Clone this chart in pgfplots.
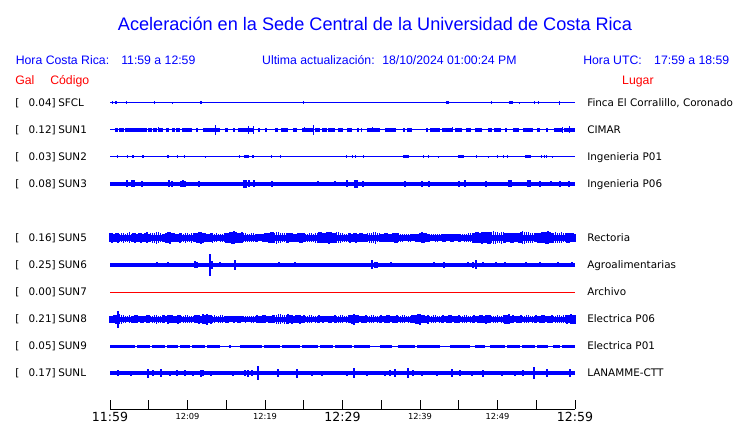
\documentclass[border=0pt]{standalone}
\usepackage{pgfplots}
\pgfplotsset{compat=1.18}
\usepackage{fontspec}
\setmainfont{Liberation Sans}
\newfontfamily\dejavu{DejaVu Sans}
\pgfplotsset{
 blk/.style={blue, draw=none, mark=none, error bars/.cd, x dir=both, x explicit, error mark=none, error bar style={draw=blue, color=blue, solid, line width=#1}},
 spk/.style={blue, draw=none, mark=none, error bars/.cd, y dir=both, y explicit, error mark=none, error bar style={draw=blue, color=blue, solid, line width=#1}},
}
\newcommand{\lab}{\dejavu\fontsize{7.8}{9}\selectfont}
\newcommand{\hdr}{\fontsize{9.2}{11}\selectfont}
\begin{document}
\begin{tikzpicture}
\begin{axis}[scale only axis, width=348.75pt, height=317.25pt,
  xmin=0, xmax=60, ymin=0, ymax=423, y dir=reverse,
  hide axis, clip=false]
\path (axis cs:-14.194,0) rectangle (axis cs:81.290,423);
% ---------- titles ----------
\node[anchor=base, inner sep=0, text=blue, font=\fontsize{13.6}{16}\selectfont] at (axis cs:34.19,30.5) {Aceleración en la Sede Central de la Universidad de Costa Rica};
\node[anchor=base west, inner sep=0, text=blue, font=\hdr] at (axis cs:-12.19,64.5) {Hora Costa Rica:};
\node[anchor=base west, inner sep=0, text=blue, font=\hdr] at (axis cs:1.42,64.5) {11:59 a 12:59};
\node[anchor=base west, inner sep=0, text=blue, font=\hdr] at (axis cs:19.61,64.5) {Ultima actualización:};
\node[anchor=base west, inner sep=0, text=blue, font=\hdr] at (axis cs:35.10,64.5) {18/10/2024 01:00:24 PM};
\node[anchor=base west, inner sep=0, text=blue, font=\hdr] at (axis cs:61.03,64.5) {Hora UTC:};
\node[anchor=base west, inner sep=0, text=blue, font=\hdr] at (axis cs:70.19,64.5) {17:59 a 18:59};
\node[anchor=base west, inner sep=0, text=red, font=\hdr] at (axis cs:-12.26,84.5) {Gal};
\node[anchor=base west, inner sep=0, text=red, font=\hdr] at (axis cs:-7.74,84.5) {Código};
\node[anchor=base west, inner sep=0, text=red, font=\hdr] at (axis cs:66.06,84.5) {Lugar};
% ---------- row labels ----------
\def\rowlab#1#2#3#4{%
\node[anchor=base west, inner sep=0, font=\lab] at (axis cs:-12.26,#1) {[};
\node[anchor=base east, inner sep=0, font=\lab] at (axis cs:-6.97,#1) {#2]};
\node[anchor=base west, inner sep=0, font=\lab] at (axis cs:-6.71,#1) {#3};
\node[anchor=base west, inner sep=0, font=\lab] at (axis cs:61.55,#1) {#4};}
\rowlab{106.9}{0.04}{SFCL}{Finca El Corralillo, Coronado}
\rowlab{133.9}{0.12}{SUN1}{CIMAR}
\rowlab{160.9}{0.03}{SUN2}{Ingenieria P01}
\rowlab{187.9}{0.08}{SUN3}{Ingenieria P06}
\rowlab{241.9}{0.16}{SUN5}{Rectoria}
\rowlab{268.9}{0.25}{SUN6}{Agroalimentarias}
\rowlab{295.9}{0.00}{SUN7}{Archivo}
\rowlab{322.9}{0.21}{SUN8}{Electrica P06}
\rowlab{349.9}{0.05}{SUN9}{Electrica P01}
\rowlab{376.9}{0.17}{SUNL}{LANAMME-CTT}
% ---------- time axis ----------
\draw[line width=0.75pt] (axis cs:0,409) -- (axis cs:60,409)
 (axis cs:0,409) -- (axis cs:0,400) (axis cs:5,409) -- (axis cs:5,400)
 (axis cs:10,409) -- (axis cs:10,400) (axis cs:15,409) -- (axis cs:15,400)
 (axis cs:20,409) -- (axis cs:20,400) (axis cs:25,409) -- (axis cs:25,400)
 (axis cs:30,409) -- (axis cs:30,400) (axis cs:35,409) -- (axis cs:35,400)
 (axis cs:40,409) -- (axis cs:40,400) (axis cs:45,409) -- (axis cs:45,400)
 (axis cs:50,409) -- (axis cs:50,400) (axis cs:55,409) -- (axis cs:55,400)
 (axis cs:60,409) -- (axis cs:60,400);
\node[anchor=base, inner sep=0, font=\dejavu\fontsize{9.4}{11}\selectfont] at (axis cs:0,421.5) {11:59};
\node[anchor=base, inner sep=0, font=\dejavu\fontsize{9.4}{11}\selectfont] at (axis cs:30,421.5) {12:29};
\node[anchor=base, inner sep=0, font=\dejavu\fontsize{9.4}{11}\selectfont] at (axis cs:60,421.5) {12:59};
\node[anchor=base, inner sep=0, font=\dejavu\fontsize{6.2}{7}\selectfont] at (axis cs:10,419.3) {12:09};
\node[anchor=base, inner sep=0, font=\dejavu\fontsize{6.2}{7}\selectfont] at (axis cs:20,419.3) {12:19};
\node[anchor=base, inner sep=0, font=\dejavu\fontsize{6.2}{7}\selectfont] at (axis cs:40,419.3) {12:39};
\node[anchor=base, inner sep=0, font=\dejavu\fontsize{6.2}{7}\selectfont] at (axis cs:50,419.3) {12:49};
% ================= traces =================
% SFCL
\addplot[blue, line width=0.75pt] coordinates {(0,103) (60,103)};
\addplot[blk=2.25pt] table[x index=0, y expr=103, x error index=1, row sep=\\] {
0.77 0.13\\ 11.74 0.13\\ 43.55 0.19\\ 51.74 0.26\\};
\addplot[spk=0.75pt] table[x index=0, y expr=103, y error index=1, row sep=\\] {
0.26 1.5\\ 2.19 1.5\\ 5.68 1.5\\ 8.00 1\\ 25.03 1.5\\ 49.29 1.5\\ 52.90 1\\ 54.71 1.5\\ 55.23 1.5\\ 58.06 2\\};
% SUN1
\addplot[blue, line width=0.75pt] coordinates {(0,130) (60,130)};
\addplot[blk=2.6pt] table[x index=0, y expr=130, x error index=1, row sep=\\] {
0.84 0.19\\ 1.48 0.32\\ 3.35 1.42\\ 5.16 0.26\\ 5.81 0.26\\ 6.52 0.32\\ 7.42 0.19\\ 8.19 0.19\\
8.77 0.26\\ 9.94 0.65\\ 11.23 0.13\\ 13.10 1.10\\ 15.03 0.19\\ 16.00 0.13\\ 17.48 0.97\\ 19.23 0.13\\
20.13 0.13\\ 21.48 0.19\\ 22.52 0.45\\ 23.87 0.26\\ 25.48 0.71\\ 26.77 0.32\\ 27.68 0.32\\ 28.58 0.45\\
29.74 0.32\\ 30.90 0.32\\ 31.94 0.10\\ 32.45 0.10\\ 34.00 0.84\\ 36.19 0.71\\ 37.94 0.13\\ 38.65 0.32\\
40.90 0.13\\ 41.94 0.65\\ 43.55 0.71\\ 44.97 0.45\\ 46.26 0.32\\ 47.55 0.45\\ 49.03 0.26\\ 50.00 0.45\\
51.10 0.13\\ 52.39 0.39\\ 53.94 0.65\\ 55.29 0.19\\ 56.39 0.13\\ 57.87 0.58\\ 59.29 0.71\\};
\addplot[spk=0.75pt] table[x index=0, y expr=130, y error index=1, row sep=\\] {
6.32 2.5\\ 13.55 5.3\\ 17.81 4\\ 18.58 4\\ 25.16 2.5\\ 26.32 5\\ 33.81 2.5\\ 44.13 2.5\\ 58.45 3\\ 59.35 3.5\\};
% SUN2
\addplot[blue, line width=0.75pt] coordinates {(0,157) (60,157)};
\addplot[blk=2.25pt] table[x index=0, y expr=157, x error index=1, row sep=\\] {
2.97 0.13\\ 4.26 0.13\\ 7.48 0.13\\ 17.61 0.32\\ 18.45 0.13\\ 38.19 0.39\\ 45.29 0.39\\ 53.94 0.39\\};
\addplot[spk=0.75pt] table[x index=0, y expr=157, y error index=1, row sep=\\] {
1.03 1.5\\ 2.32 1.5\\ 8.77 1.5\\ 9.55 1.5\\ 12.26 1\\ 16.77 1.5\\ 20.90 1.5\\ 21.94 1.5\\ 30.58 1.5\\
31.23 1.5\\ 31.74 1.5\\ 32.65 1.5\\ 40.39 1.5\\ 41.16 1.5\\ 42.45 1\\ 47.35 1.5\\ 48.90 1\\ 50.06 1.5\\
50.71 1.5\\ 51.23 1.5\\ 55.74 1.5\\ 56.00 1.5\\ 56.26 1.5\\ 57.16 1\\};
% SUN3
\addplot[blue, line width=2.6pt] coordinates {(0,184) (60,184)};
\addplot[spk=0.9pt] table[x index=0, y expr=184, y error index=1, row sep=\\] {
2.19 3.5\\ 2.84 3.5\\ 3.10 3.5\\ 4.13 3\\ 7.61 3.5\\ 8.00 3\\ 9.16 3\\ 9.42 3.5\\ 9.68 3\\ 11.48 3\\
17.29 4\\ 17.55 4\\ 17.94 3.5\\ 18.58 3.5\\ 20.90 3\\ 26.84 2.5\\ 29.03 2.5\\ 30.58 3.5\\ 31.61 4\\
31.87 4\\ 32.65 3\\ 38.06 3\\ 40.26 3\\ 41.16 3\\ 45.03 3\\ 45.81 3.5\\ 48.52 3\\ 51.48 3.5\\ 51.74 3.5\\
53.94 3.5\\ 54.19 3.5\\ 55.48 3\\ 56.90 2.5\\ 58.06 3\\ 59.23 3\\};
% SUN5
\addplot[blue, line width=4.5pt] coordinates {(0,238) (60,238)};
\addplot[spk=1.2pt] table[x index=0, y expr=238, y error index=1, row sep=\\] {
0 4.5\\ 0.5 4\\ 1 5\\ 1.5 4.5\\ 2 4\\ 2.5 5.5\\ 3 4.5\\ 3.5 4\\ 4 5\\ 4.5 4.5\\ 5 4\\ 5.5 5\\ 6 6\\
6.5 4.5\\ 7 4\\ 7.5 5.5\\ 8 4.5\\ 8.5 4\\ 9 5\\ 9.5 4\\ 10 4.5\\ 10.5 5\\ 11 4.5\\ 11.5 5.5\\ 12 5\\
12.5 4\\ 13 4.5\\ 13.5 4\\ 14 3.5\\ 14.5 4\\ 15 5\\ 15.5 5.5\\ 16 6.5\\ 16.5 5\\ 17 5.5\\ 17.5 4.5\\
18 4\\ 18.5 4.5\\ 19 4\\ 19.5 3.5\\ 20 4.5\\ 20.5 5\\ 21 5.5\\ 21.5 6\\ 22 5\\ 22.5 4.5\\ 23 5\\
23.5 4.5\\ 24 4\\ 24.5 5\\ 25 4.5\\ 25.5 4\\ 26 4.5\\ 26.5 5\\ 27 5.5\\ 27.5 5\\ 28 5.5\\ 28.5 5.5\\
29 5\\ 29.5 5.5\\ 30 4.5\\ 30.5 4\\ 31 5\\ 31.5 4.5\\ 32 4\\ 32.5 4.5\\ 33 4\\ 33.5 5\\ 34 5.5\\
34.5 4.5\\ 35 4\\ 35.5 4.5\\ 36 4\\ 36.5 4.5\\ 37 5\\ 37.5 4\\ 38 3.5\\ 38.5 4\\ 39 3.5\\ 39.5 4\\
40 4.5\\ 40.5 5\\ 41 4\\ 41.5 3.5\\ 42 4\\ 42.5 3.5\\ 43 4\\ 43.5 3.5\\ 44 4\\ 44.5 3.5\\ 45 4\\
45.5 3.5\\ 46 4\\ 46.5 4.5\\ 47 5\\ 47.5 5.5\\ 48 6\\ 48.5 5.5\\ 49 6\\ 49.5 6.5\\ 50 5.5\\ 50.5 6\\
51 5\\ 51.5 4.5\\ 52 5\\ 52.5 4.5\\ 53 5.5\\ 53.5 6\\ 54 5.5\\ 54.5 5\\ 55 4.5\\ 55.5 5\\ 56 5.5\\
56.5 6.5\\ 57 5\\ 57.5 5.5\\ 58 5\\ 58.5 4.5\\ 59 5\\ 59.5 4.5\\ 60 4\\};
\addplot[spk=1.2pt] table[x index=0, y expr=238, y error index=1, row sep=\\] {
0.25 5\\ 0.75 4.5\\ 1.25 4\\ 1.75 5\\ 2.25 4.5\\ 2.75 4\\ 3.25 5\\ 3.75 4.5\\ 4.25 4\\ 4.75 5.5\\
5.25 4.5\\ 5.75 5\\ 6.25 5.5\\ 6.75 4\\ 7.25 5\\ 7.75 6\\ 8.25 4.5\\ 8.75 4\\ 9.25 4.5\\ 9.75 5\\
10.25 4\\ 10.75 4.5\\ 11.25 5\\ 11.75 6\\ 12.25 4.5\\ 12.75 4\\ 13.25 5\\ 13.75 4.5\\ 14.25 4\\ 14.75 4.5\\
15.25 5\\ 15.75 6\\ 16.25 5.5\\ 16.75 5\\ 17.25 4.5\\ 17.75 4\\ 18.25 4.5\\ 18.75 4\\ 19.25 3.5\\ 19.75 4\\
20.25 4.5\\ 20.75 5.5\\ 21.25 5\\ 21.75 5.5\\ 22.25 4.5\\ 22.75 5\\ 23.25 4.5\\ 23.75 4\\ 24.25 4.5\\ 24.75 5\\
25.25 4\\ 25.75 4.5\\ 26.25 4\\ 26.75 5\\ 27.25 5.5\\ 27.75 5\\ 28.25 6\\ 28.75 5\\ 29.25 5.5\\ 29.75 5\\
30.25 4\\ 30.75 4.5\\ 31.25 4\\ 31.75 5\\ 32.25 4.5\\ 32.75 4\\ 33.25 4.5\\ 33.75 5\\ 34.25 6\\ 34.75 4.5\\
35.25 4\\ 35.75 4.5\\ 36.25 4\\ 36.75 5\\ 37.25 4.5\\ 37.75 4\\ 38.25 3.5\\ 38.75 4\\ 39.25 3.5\\ 39.75 4\\
40.25 5.5\\ 40.75 4.5\\ 41.25 4\\ 41.75 3.5\\ 42.25 4\\ 42.75 3.5\\ 43.25 4\\ 43.75 3.5\\ 44.25 4\\ 44.75 3.5\\
45.25 4\\ 45.75 4\\ 46.25 4.5\\ 46.75 5\\ 47.25 5.5\\ 47.75 5\\ 48.25 5.5\\ 48.75 6\\ 49.25 5.5\\ 49.75 6\\
50.25 5\\ 50.75 5.5\\ 51.25 4.5\\ 51.75 5\\ 52.25 4.5\\ 52.75 5\\ 53.25 6.5\\ 53.75 5.5\\ 54.25 5\\ 54.75 4.5\\
55.25 5\\ 55.75 5.5\\ 56.25 6\\ 56.75 5.5\\ 57.25 5\\ 57.75 5\\ 58.25 5.5\\ 58.75 4.5\\ 59.25 5\\ 59.75 4.5\\};
% SUN6
\addplot[blue, line width=2.55pt] coordinates {(0,265) (60,265)};
\addplot[spk=0.9pt] table[x index=0, y expr=265, y error index=1, row sep=\\] {
6.06 2.5\\ 7.48 2.5\\ 10.97 3.5\\ 11.23 3\\ 12.90 10.5\\ 13.16 4\\ 14.19 2.5\\ 16.13 5\\ 21.81 2.5\\
23.87 2.5\\ 33.81 4.5\\ 34.19 3\\ 34.45 3\\ 36.26 2.5\\ 41.81 2.5\\ 43.10 3\\ 46.19 2.5\\ 46.84 3\\
47.23 4.5\\ 48.13 2.5\\ 49.81 2.5\\ 50.97 2.5\\ 53.68 2.5\\ 55.48 2.5\\ 57.81 2.5\\ 59.61 2.5\\};
% SUN7
\addplot[red, line width=0.75pt] coordinates {(0,292) (60,292)};
% SUN8
\addplot[blue, line width=3.75pt] coordinates {(0,319) (60,319)};
\addplot[spk=1.2pt] table[x index=0, y expr=319, y error index=1, row sep=\\] {
0 3.5\\ 0.5 4\\ 1 8.5\\ 1.5 4.5\\ 2 3.5\\ 2.5 4\\ 3 3.5\\ 3.5 4\\ 4 3.5\\ 4.5 3\\ 5 4\\ 5.5 3.5\\
6 4.5\\ 6.5 3.5\\ 7 4\\ 7.5 4.5\\ 8 4\\ 8.5 3.5\\ 9 4\\ 9.5 3.5\\ 10 4\\ 10.5 3.5\\ 11 4\\ 11.5 4.5\\
12 5\\ 12.5 5.5\\ 13 4.5\\ 13.5 4\\ 14 3.5\\ 14.5 4\\ 15 3.5\\ 15.5 3\\ 16 3.5\\ 16.5 3.5\\ 17 3\\
17.5 3.5\\ 18 3\\ 18.5 3.5\\ 19 4\\ 19.5 3.5\\ 20 4\\ 20.5 3.5\\ 21 4\\ 21.5 4.5\\ 22 5\\ 22.5 4.5\\
23 5\\ 23.5 4.5\\ 24 4\\ 24.5 4.5\\ 25 4\\ 25.5 3.5\\ 26 4\\ 26.5 3.5\\ 27 4\\ 27.5 3.5\\ 28 3\\
28.5 3.5\\ 29 4\\ 29.5 3.5\\ 30 4\\ 30.5 3.5\\ 31 4\\ 31.5 5.5\\ 32 4\\ 32.5 3.5\\ 33 4\\ 33.5 3.5\\
34 4\\ 34.5 3.5\\ 35 4\\ 35.5 3.5\\ 36 4\\ 36.5 3.5\\ 37 4\\ 37.5 3.5\\ 38 4\\ 38.5 3.5\\ 39 4\\
39.5 4.5\\ 40 5.5\\ 40.5 4\\ 41 4.5\\ 41.5 3.5\\ 42 4\\ 42.5 3.5\\ 43 4\\ 43.5 3.5\\ 44 4\\ 44.5 3.5\\
45 4\\ 45.5 3.5\\ 46 4\\ 46.5 3.5\\ 47 4\\ 47.5 3.5\\ 48 4\\ 48.5 4.5\\ 49 4\\ 49.5 3.5\\ 50 4\\
50.5 3.5\\ 51 4.5\\ 51.5 5\\ 52 4\\ 52.5 3.5\\ 53 4\\ 53.5 3.5\\ 54 4\\ 54.5 3.5\\ 55 4\\ 55.5 3.5\\
56 4\\ 56.5 3.5\\ 57 4\\ 57.5 3.5\\ 58 4\\ 58.5 4\\ 59 4.5\\ 59.5 5\\ 60 4.5\\};
\addplot[spk=1.2pt] table[x index=0, y expr=319, y error index=1, row sep=\\] {
0.25 3.5\\ 0.75 4.5\\ 1.25 5\\ 1.75 4\\ 2.25 3\\ 2.75 3.5\\ 3.25 4\\ 3.75 3\\ 4.25 3.5\\ 4.75 4\\
5.25 3\\ 5.75 4\\ 6.25 3.5\\ 6.75 4\\ 7.25 3\\ 7.75 4\\ 8.25 3.5\\ 8.75 4.5\\ 9.25 3\\ 9.75 4\\
10.25 3.5\\ 10.75 3\\ 11.25 4\\ 11.75 3.5\\ 12.25 4.5\\ 12.75 4\\ 13.25 3.5\\ 13.75 3\\ 14.25 4\\ 14.75 3\\
15.25 3.5\\ 15.75 3\\ 16.25 3\\ 16.75 3.5\\ 17.25 3\\ 17.75 3\\ 18.25 3.5\\ 18.75 3\\ 19.25 3.5\\ 19.75 4\\
20.25 3\\ 20.75 3.5\\ 21.25 4\\ 21.75 5\\ 22.25 4\\ 22.75 4.5\\ 23.25 4\\ 23.75 3.5\\ 24.25 4\\ 24.75 3.5\\
25.25 3\\ 25.75 4\\ 26.25 3\\ 26.75 3.5\\ 27.25 3\\ 27.75 3\\ 28.25 3.5\\ 28.75 3\\ 29.25 3.5\\ 29.75 4\\
30.25 3\\ 30.75 4\\ 31.25 4.5\\ 31.75 4\\ 32.25 3\\ 32.75 3.5\\ 33.25 3\\ 33.75 4\\ 34.25 3\\ 34.75 3.5\\
35.25 3\\ 35.75 4\\ 36.25 3\\ 36.75 3.5\\ 37.25 3\\ 37.75 4\\ 38.25 3\\ 38.75 3.5\\ 39.25 4\\ 39.75 5\\
40.25 4\\ 40.75 3.5\\ 41.25 3\\ 41.75 4\\ 42.25 3\\ 42.75 3.5\\ 43.25 3\\ 43.75 4\\ 44.25 3\\ 44.75 3.5\\
45.25 3\\ 45.75 4\\ 46.25 3\\ 46.75 3.5\\ 47.25 3\\ 47.75 4\\ 48.25 3.5\\ 48.75 4\\ 49.25 3\\ 49.75 3.5\\
50.25 3\\ 50.75 4\\ 51.25 4.5\\ 51.75 3.5\\ 52.25 3\\ 52.75 3.5\\ 53.25 3\\ 53.75 4\\ 54.25 3\\ 54.75 3.5\\
55.25 3\\ 55.75 4\\ 56.25 3\\ 56.75 3.5\\ 57.25 3\\ 57.75 4\\ 58.25 3.5\\ 58.75 4\\ 59.25 4\\ 59.75 4.5\\};
% SUN9
\addplot[blue, line width=0.75pt] coordinates {(0,346) (60,346)};
\addplot[blk=2.25pt] table[x index=0, y expr=346, x error index=1, row sep=\\] {
1.61 1.61\\ 4.32 0.84\\ 6.26 0.84\\ 8.06 0.71\\ 9.68 0.65\\ 11.42 0.84\\ 13.35 0.84\\ 15.48 0.13\\
18.19 1.42\\ 20.90 1.03\\ 23.35 1.16\\ 25.81 1.03\\ 27.94 0.84\\ 30.13 1.10\\ 32.52 1.03\\ 35.61 0.77\\
38.26 1.10\\ 41.10 1.48\\ 45.16 1.29\\ 47.74 0.65\\ 50.00 0.97\\ 52.06 0.84\\ 54.00 0.84\\ 55.81 0.71\\
57.61 0.45\\ 59.16 0.84\\};
% SUNL
\addplot[blue, line width=2.6pt] coordinates {(0,373) (60,373)};
\addplot[spk=0.9pt] table[x index=0, y expr=373, y error index=1, row sep=\\] {
1.03 3\\ 2.71 2.5\\ 4.90 4.5\\ 5.55 3\\ 6.58 4\\ 7.74 2.5\\ 8.65 3\\ 9.68 3\\ 10.71 2.5\\ 11.74 3.5\\
12.00 3\\ 13.03 2.5\\ 15.87 2.5\\ 17.42 3\\ 17.81 3.5\\ 18.32 3\\ 19.10 7\\ 21.68 4\\ 24.13 4.5\\
26.06 2.5\\ 27.35 2.5\\ 30.58 2.5\\ 31.48 5\\ 33.16 2.5\\ 35.48 2.5\\ 36.13 3\\ 36.77 4\\ 38.45 5\\
39.10 3\\ 40.26 2.5\\ 42.19 2.5\\ 44.13 4\\ 45.16 3\\ 46.71 2.5\\ 48.13 3.5\\ 50.58 2.5\\ 52.26 2.5\\
53.29 3\\ 54.71 6\\ 56.39 4\\ 59.35 4\\};
\end{axis}
\end{tikzpicture}
\end{document}
